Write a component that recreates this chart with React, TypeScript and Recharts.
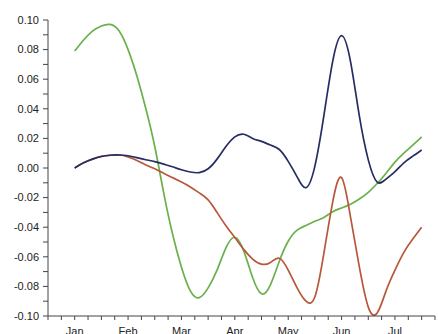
import { Line, LineChart, XAxis, YAxis } from "recharts";

// months are numbered Jan = 0; samples every 1/6 month (about 5 days)
const monthLabels = ["Jan", "Feb", "Mar", "Apr", "May", "Jun", "Jul"];
const sampleMonths = Array.from({ length: 40 }, (_, k) => k / 6);

const greenSeries = [
  0.079, 0.0865, 0.0925, 0.096, 0.097, 0.0925, 0.08, 0.062, 0.04, 0.0145,
  -0.0166, -0.0446, -0.067, -0.083, -0.0876, -0.081, -0.069, -0.054, -0.0468, -0.056,
  -0.074, -0.085, -0.079, -0.063, -0.0495, -0.042, -0.0388, -0.036, -0.0335, -0.0295,
  -0.027, -0.0245, -0.021, -0.0165, -0.0105, -0.0035, 0.004, 0.01, 0.0155, 0.021,
];

const navySeries = [
  0.0, 0.0035, 0.006, 0.0078, 0.0086, 0.0088, 0.0083, 0.007, 0.0056, 0.0043,
  0.0026, 0.0008, -0.0012, -0.0027, -0.0031, -0.0005, 0.006, 0.0145, 0.021, 0.0228,
  0.02, 0.018, 0.0155, 0.0125, 0.0045, -0.006, -0.0133, 0.0013, 0.035, 0.072,
  0.0894, 0.072, 0.035, 0.0055, -0.0095, -0.0075, -0.0025, 0.0035, 0.008, 0.0122,
];

const rustSeries = [
  0.0, 0.0035, 0.006, 0.0078, 0.0086, 0.0088, 0.0075, 0.005, 0.002, -0.0005,
  -0.0035, -0.0065, -0.0095, -0.0128, -0.0168, -0.0215, -0.03, -0.039, -0.047, -0.055,
  -0.0615, -0.065, -0.0638, -0.061, -0.069, -0.081, -0.09, -0.087, -0.058, -0.023,
  -0.0065, -0.033, -0.067, -0.094, -0.098, -0.083, -0.069, -0.057, -0.048, -0.04,
];

const xTicks = Array.from({ length: 30 }, (_, k) => -0.5 + k * 0.25);
const yTicks = Array.from({ length: 21 }, (_, k) => Math.round((-0.1 + k * 0.01) * 100) / 100);

const chartData = sampleMonths.map((m, i) => ({
  m,
  green: greenSeries[i],
  navy: navySeries[i],
  rust: rustSeries[i],
}));

const FONT = "'Liberation Sans', Arial, sans-serif";

function MonthTick({ x, y, payload }: any) {
  const v = payload.value;
  if (!Number.isInteger(v) || v < 0 || v >= monthLabels.length) return null;
  return (
    <text x={x} y={y} dy="0.71em" textAnchor="middle" fontSize={11} fontFamily={FONT} fill="#222">
      {monthLabels[v]}
    </text>
  );
}

function ValueTick({ x, y, payload }: any) {
  const hundredths = Math.round(payload.value * 100);
  if (hundredths % 2 !== 0) return null;
  return (
    <text x={x} y={y} dy="0.35em" textAnchor="end" fontSize={11} fontFamily={FONT} fill="#222">
      {payload.value.toFixed(2)}
    </text>
  );
}

export default function App() {
  return (
    <div style={{ position: "absolute", left: 0, top: 0, width: 438, height: 334, background: "#fff" }}>
      <LineChart
        width={438}
        height={334}
        data={chartData}
        margin={{ top: 20, right: 3, bottom: 0, left: 0 }}
      >
        <XAxis
          dataKey="m"
          type="number"
          domain={[-0.5, 6.75]}
          ticks={xTicks}
          interval={0}
          height={18}
          tickSize={4}
          tickMargin={7}
          stroke="#444"
          tick={<MonthTick />}
          allowDataOverflow
        />
        <YAxis
          type="number"
          domain={[-0.1, 0.1]}
          ticks={yTicks}
          interval={0}
          width={48}
          tickSize={5}
          tickMargin={4}
          stroke="#444"
          tick={<ValueTick />}
          allowDataOverflow
        />
        <Line
          dataKey="green"
          type="natural"
          stroke="#6ab04c"
          strokeWidth={1.7}
          dot={false}
          isAnimationActive={false}
        />
        <Line
          dataKey="rust"
          type="natural"
          stroke="#b8573a"
          strokeWidth={1.7}
          dot={false}
          isAnimationActive={false}
        />
        <Line
          dataKey="navy"
          type="natural"
          stroke="#262d62"
          strokeWidth={1.7}
          dot={false}
          isAnimationActive={false}
        />
      </LineChart>
    </div>
  );
}
